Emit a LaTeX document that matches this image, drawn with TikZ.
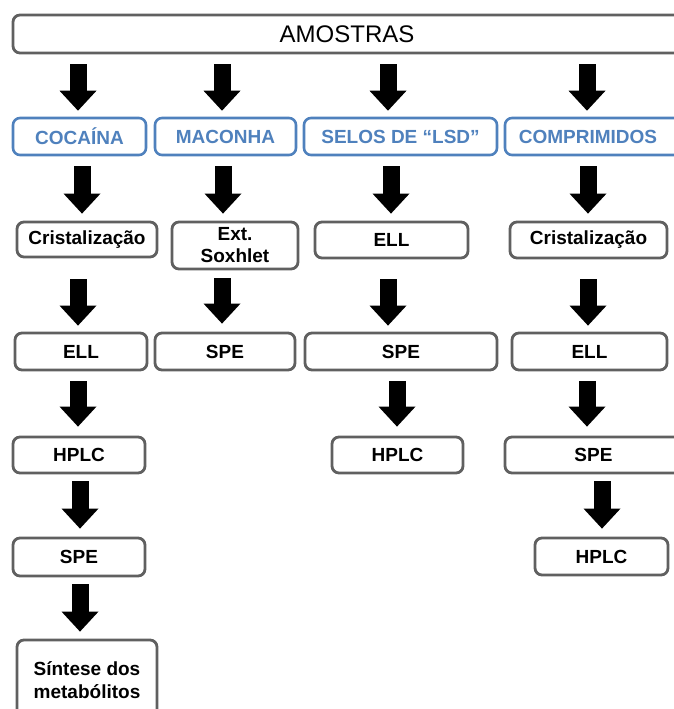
\documentclass[tikz,border=0pt]{standalone}
\usepackage{fontspec}
\setmainfont{Liberation Sans}
\usetikzlibrary{arrows.meta,calc}
\definecolor{bl}{RGB}{79,129,189}
\definecolor{gr}{RGB}{96,96,96}
\tikzset{
  gbox/.style={draw=gr, line width=2.8pt, rounded corners=7pt, fill=white, inner sep=0pt,
    font=\bfseries\fontsize{19}{22}\selectfont, align=center},
  bbox/.style={draw=bl, line width=2.6pt, rounded corners=7pt, fill=white, inner sep=0pt,
    text=bl, font=\bfseries\fontsize{19}{22}\selectfont},
  fatarr/.style={line width=17pt, black, -{Triangle[width=37pt,length=20pt,line width=0pt]}}
}
\newcommand\farrow[5]{\draw[fatarr] ($(#1,0 |- #2.south)+(0,#3)$) -- ($(#1,0 |- #4.north)+(0,-#5)$);}
\begin{document}
\begin{tikzpicture}[x=1pt,y=-1pt]
\useasboundingbox (0,0) rectangle (674,709);
\clip (0,0) rectangle (674,709);
% top
\node[gbox, font=\fontsize{24}{28}\selectfont, minimum width=668pt, minimum height=38pt] (amo) at (347,34) {AMOSTRAS};
% level 1
\node[bbox, minimum width=133pt, minimum height=37pt] (coc) at (79.5,136.5) {COCAÍNA};
\node[bbox, minimum width=141pt, minimum height=37pt] (mac) at (225.5,136.5) {MACONHA};
\node[bbox, minimum width=193pt, minimum height=37pt] (sel) at (400.5,136.5) {SELOS DE “LSD”};
\node[bbox, minimum width=177pt, minimum height=37pt] (com) at (593.5,136.5) {\hspace*{-11pt}COMPRIMIDOS};
% level 2
\node[gbox, minimum width=140pt, minimum height=35pt] (cr1) at (87,239.5) {Cristalização};
\node[gbox, minimum width=126pt, minimum height=47pt] (soxh) at (235,245.5) {Ext.\\Soxhlet};
\node[gbox, minimum width=153pt, minimum height=36pt] (ell2) at (391.5,240) {ELL};
\node[gbox, minimum width=157pt, minimum height=36pt] (cr2) at (588.5,240) {Cristalização};
% level 3
\node[gbox, minimum width=132pt, minimum height=37pt] (ell1) at (81,351.5) {ELL};
\node[gbox, minimum width=140pt, minimum height=37pt] (spe2) at (225,351.5) {SPE};
\node[gbox, minimum width=192pt, minimum height=37pt] (spe3) at (401,351.5) {SPE};
\node[gbox, minimum width=155pt, minimum height=37pt] (ell4) at (589.5,351.5) {ELL};
% level 4
\node[gbox, minimum width=132pt, minimum height=36pt] (hplc1) at (79,455) {HPLC};
\node[gbox, minimum width=131pt, minimum height=36pt] (hplc3) at (397.5,455) {HPLC};
\node[gbox, minimum width=177pt, minimum height=36pt] (spe4) at (593.5,455) {SPE};
% level 5
\node[gbox, minimum width=132pt, minimum height=38pt] (spe1) at (79,557) {SPE};
\node[gbox, minimum width=133pt, minimum height=37pt] (hplc4) at (601.5,556.5) {HPLC};
% level 6
\node[gbox, minimum width=140pt, minimum height=80pt, font=\bfseries\fontsize{19}{23}\selectfont] (sint) at (87,680) {Síntese dos\\metabólitos};
% arrows
\farrow{78}{amo}{10}{coc}{6}
\farrow{222}{amo}{10}{mac}{6}
\farrow{388}{amo}{10}{sel}{6}
\farrow{587}{amo}{10}{com}{6}
\farrow{82}{coc}{10}{cr1}{7}
\farrow{223}{mac}{10}{soxh}{7}
\farrow{391}{sel}{10}{ell2}{7}
\farrow{588}{com}{10}{cr2}{7}
\farrow{78}{cr1}{21}{ell1}{6}
\farrow{222}{soxh}{8}{spe2}{8}
\farrow{388}{ell2}{20}{spe3}{6}
\farrow{588}{cr2}{20}{ell4}{6}
\farrow{78}{ell1}{10}{hplc1}{9}
\farrow{397}{spe3}{10}{hplc3}{9}
\farrow{587}{ell4}{10}{spe4}{9}
\farrow{80}{hplc1}{7}{spe1}{8}
\farrow{602}{spe4}{7}{hplc4}{8}
\farrow{80}{spe1}{7}{sint}{7}
\end{tikzpicture}
\end{document}
